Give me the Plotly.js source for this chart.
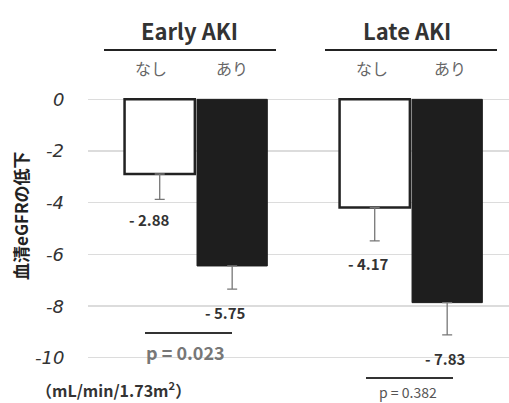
<!DOCTYPE html>
<html><head><meta charset="utf-8">
<script src="https://cdn.plot.ly/plotly-3.0.1.min.js"></script>
<style>html,body{margin:0;padding:0;background:#fff;}#c{width:509px;height:403px;}</style>
</head><body><div id="c"></div>
<script>
// ---- data ----
const groups = ["Early AKI", "Late AKI"];
const seriesNames = ["なし", "あり"];
const nashiValues = [-2.89, -4.19];     // bar ends as drawn
const ariValues = [-6.45, -7.87];
const nashiErr = [0.98, 1.29];
const ariErr = [0.90, 1.25];
const nashiLabels = ["- 2.88", "- 4.17"];
const ariLabels = ["- 5.75", "- 7.83"];
const pValues = ["p = 0.023", "p = 0.382"];
const yTicks = [0, -2, -4, -6, -8, -10];
const yTickText = ["0", "-2", "-4", "-6", "-8", "-10"];
const yTitle = "血清eGFRの低下";
const unitText = "（mL/min/1.73m<sup>2</sup>）";

// ---- layout helpers (pixel -> paper) ----
const W = 509, H = 403, L = 88, R = 0, T = 97, B = 35;
const pw = W - L - R, ph = H - T - B;
const px = x => (x - L) / pw;
const py = y => (H - B - y) / ph;
const JP = "Noto Sans CJK JP, Noto Sans, sans-serif";

function ann(text, x, y, size, color, opts) {
  return Object.assign({
    text: text, xref: "paper", yref: "paper", x: px(x), y: py(y),
    xanchor: "center", yanchor: "middle", showarrow: false,
    font: {family: JP, size: size, color: color || "#333"}
  }, opts || {});
}
function line(x0, x1, y, w, c) {
  return {type: "line", xref: "paper", yref: "paper", x0: px(x0), x1: px(x1), y0: py(y), y1: py(y),
    line: {color: c || "#222", width: w || 2}};
}

const traces = [
  {type: "bar", name: seriesNames[0], x: groups, y: nashiValues,
   marker: {color: "#fff", line: {color: "#222", width: 2.5}},
   error_y: {type: "data", symmetric: false, array: [0, 0], arrayminus: nashiErr,
             color: "#777", thickness: 1.3, width: 5}},
  {type: "bar", name: seriesNames[1], x: groups, y: ariValues,
   marker: {color: "#1e1e1e", line: {color: "#1e1e1e", width: 1}},
   error_y: {type: "data", symmetric: false, array: [0, 0], arrayminus: ariErr,
             color: "#777", thickness: 1.3, width: 5}}
];

const annotations = [
  ann("<b>" + groups[0] + "</b>", 189, 30, 22, "#333"),
  ann("<b>" + groups[1] + "</b>", 407, 30, 22, "#333"),
  ann(seriesNames[0], 151, 68, 16, "#666"),
  ann(seriesNames[1], 232, 68, 16, "#666"),
  ann(seriesNames[0], 372, 68, 16, "#666"),
  ann(seriesNames[1], 450, 68, 16, "#666"),
  ann("<b>" + nashiLabels[0] + "</b>", 149, 219, 15),
  ann("<b>" + ariLabels[0] + "</b>", 225, 312, 15),
  ann("<b>" + nashiLabels[1] + "</b>", 368, 263, 15),
  ann("<b>" + ariLabels[1] + "</b>", 445, 358, 15),
  ann("<b>" + pValues[0] + "</b>", 185, 352, 18, "#777"),
  ann(pValues[1], 408, 392, 14, "#555"),
  ann("<b>" + unitText + "</b>", 113, 389, 16),
  ann("<b>" + yTitle + "</b>", 20, 216, 17, "#222", {textangle: -90})
];
// y tick labels (italic), placed at the tick values
yTicks.forEach((v, i) => {
  annotations.push({text: "<i>" + yTickText[i] + "</i>", xref: "paper", yref: "y",
    x: px(66), y: v, xanchor: "right", yanchor: "middle", showarrow: false,
    font: {family: "DejaVu Sans, sans-serif", size: 18, color: "#333", style: "italic"}});
});

const shapes = [
  line(104, 276, 50, 2),
  line(325, 497, 50, 2),
  line(145, 232, 333, 2, "#333"),
  line(366, 453, 378, 2, "#333")
];

const layout = {
  width: W, height: H,
  margin: {l: L, r: R, t: T, b: B, pad: 0},
  paper_bgcolor: "#fff", plot_bgcolor: "#fff",
  showlegend: false,
  barmode: "group", bargap: 0.326, bargroupgap: 0.03,
  xaxis: {type: "category", range: [-0.502, 1.456], showticklabels: false, showgrid: false,
          zeroline: false, showline: false, ticks: ""},
  yaxis: {range: [-10.4, 0.09], tickvals: yTicks, showticklabels: false, showgrid: true,
          gridcolor: "#dcdcdc", gridwidth: 1.5, zeroline: false, showline: false, ticks: ""},
  annotations: annotations,
  shapes: shapes
};

Plotly.newPlot("c", traces, layout, {displayModeBar: false, staticPlot: true});
</script></body></html>
